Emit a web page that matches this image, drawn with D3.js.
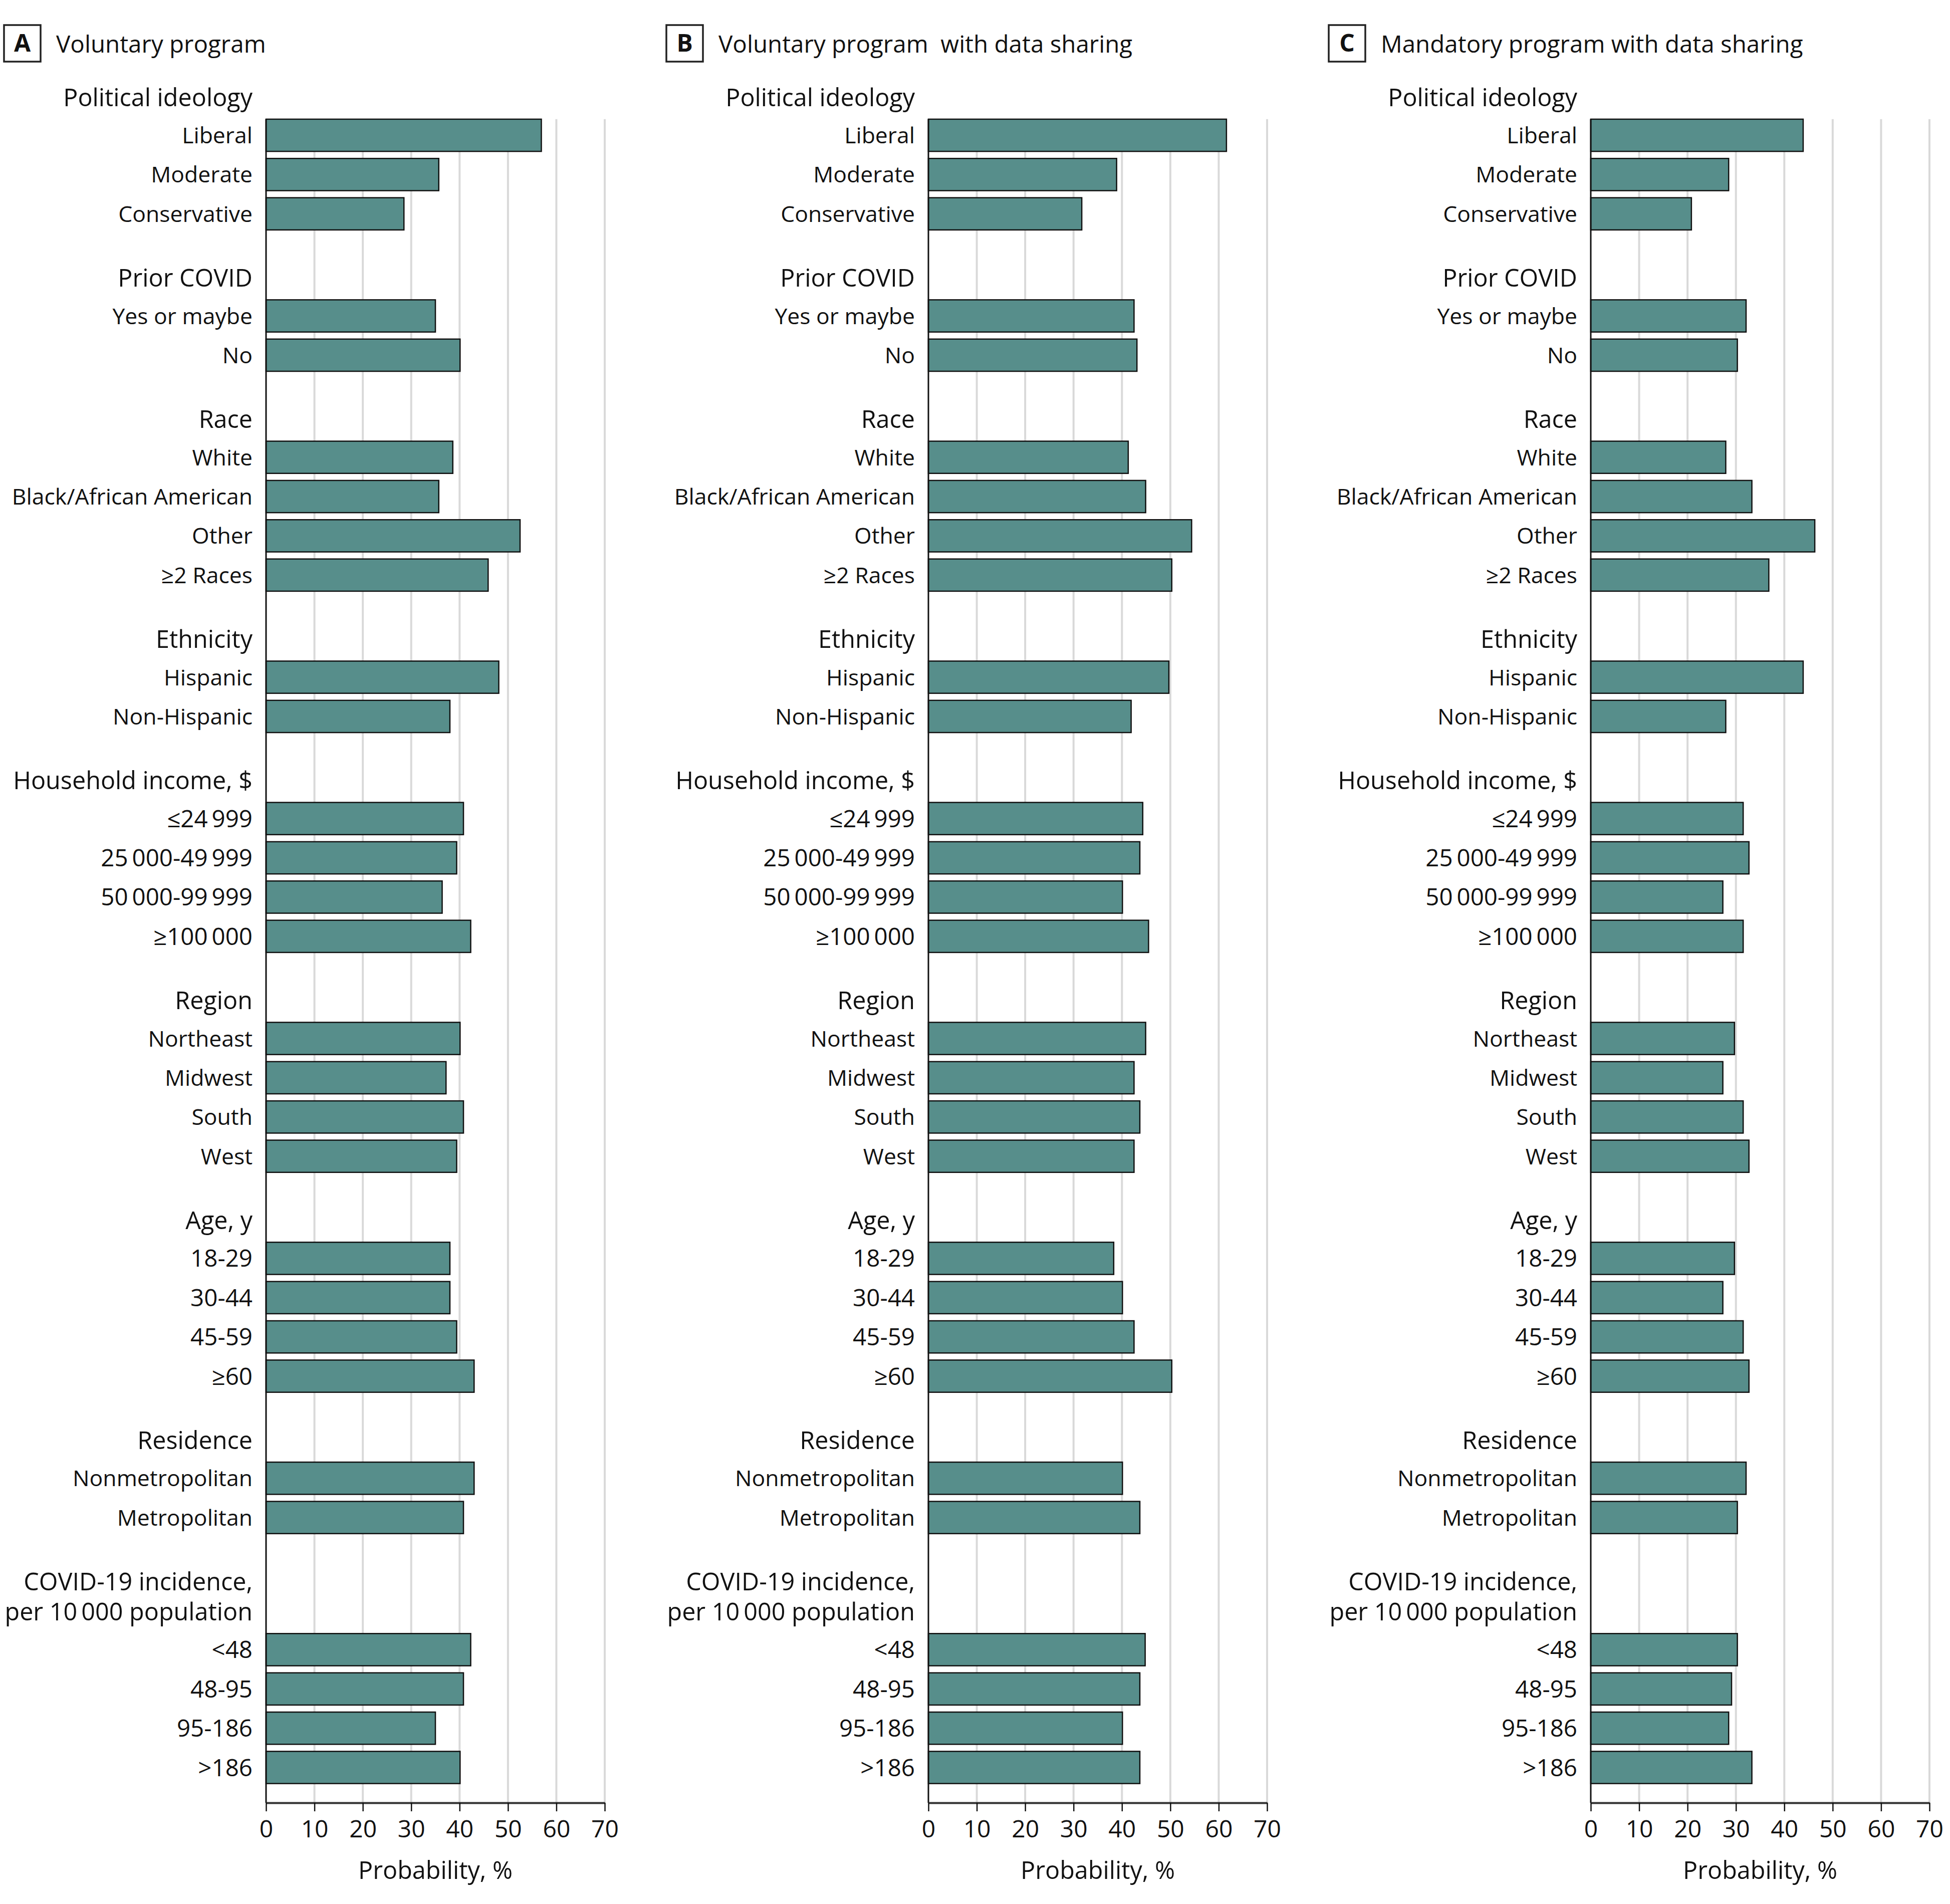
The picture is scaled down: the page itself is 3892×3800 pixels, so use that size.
<!DOCTYPE html>
<html>
<head>
<meta charset="utf-8">
<script src="https://cdn.jsdelivr.net/npm/d3@7"></script>
<style>
  html, body { margin: 0; padding: 0; background: #fff; }
  text { font-family: "Open Sans", "Noto Sans", sans-serif; fill: #111; }
</style>
</head>
<body>
<svg id="chart" width="3892" height="3800"></svg>
<script>
// ---------- data ----------
const panelLetters = ["A", "B", "C"];
const panelTitles = ["Voluntary program", "Voluntary program  with data sharing", "Mandatory program with data sharing"];

const groupHeaders = [
  ["Political ideology"],
  ["Prior COVID"],
  ["Race"],
  ["Ethnicity"],
  ["Household income, $"],
  ["Region"],
  ["Age, y"],
  ["Residence"],
  ["COVID-19 incidence,", "per 10\u2009000 population"]
];

const groupCategories = [
  ["Liberal", "Moderate", "Conservative"],
  ["Yes or maybe", "No"],
  ["White", "Black/African American", "Other", "\u22652 Races"],
  ["Hispanic", "Non-Hispanic"],
  ["\u226424\u2009999", "25\u2009000-49\u2009999", "50\u2009000-99\u2009999", "\u2265100\u2009000"],
  ["Northeast", "Midwest", "South", "West"],
  ["18-29", "30-44", "45-59", "\u226560"],
  ["Nonmetropolitan", "Metropolitan"],
  ["<48", "48-95", "95-186", ">186"]
];

const valuesVoluntary = [56.9, 35.7, 28.5, 35.0, 40.1, 38.6, 35.7, 52.5, 45.9, 48.1, 38.0, 40.8, 39.4, 36.4, 42.3,
  40.1, 37.2, 40.8, 39.4, 38.0, 38.0, 39.4, 43.0, 43.0, 40.8, 42.3, 40.8, 35.0, 40.1];
const valuesVoluntaryShared = [61.6, 38.9, 31.7, 42.5, 43.1, 41.3, 44.9, 54.4, 50.3, 49.7, 41.9, 44.3, 43.7, 40.1, 45.5,
  44.9, 42.5, 43.7, 42.5, 38.3, 40.1, 42.5, 50.3, 40.1, 43.7, 44.8, 43.7, 40.1, 43.7];
const valuesMandatoryShared = [43.9, 28.5, 20.8, 32.1, 30.3, 27.9, 33.3, 46.3, 36.8, 43.9, 27.9, 31.5, 32.7, 27.3, 31.5,
  29.7, 27.3, 31.5, 32.7, 29.7, 27.3, 31.5, 32.7, 32.1, 30.3, 30.3, 29.1, 28.5, 33.3];
const panelValues = [valuesVoluntary, valuesVoluntaryShared, valuesMandatoryShared];

const xTicks = [0, 10, 20, 30, 40, 50, 60, 70];
const xDomain = [0, 70];
const xTitle = "Probability, %";

// ---------- layout ----------
const W = 3892, H = 3800;
const panelX0 = [531, 1853, 3175];   // x position of value 0 in each panel
const plotW = 676;
const yFirst = 270, yLast = 3527.5;  // centers of first and last rows
const groupGap = 2.6;                // in row steps
const headerLine = 0.765;            // extra header line in row steps
const barFrac = 0.82;
const labelSize = 44.5;
const numLabelSize = 47.5;
const headerSize = 48.5;
const tickSize = 48;

// build row index positions from structure
const rows = [];
const headers = [];
let pos = 0;
groupCategories.forEach((cats, gi) => {
  if (gi > 0) pos += groupGap + (groupHeaders[gi].length - 1) * headerLine;
  const nLines = groupHeaders[gi].length;
  groupHeaders[gi].forEach((line, li) => {
    headers.push({ text: line, pos: pos - 1 - (nLines - 1 - li) * headerLine });
  });
  cats.forEach((c, ci) => {
    rows.push({ label: c, pos: pos });
    if (ci < cats.length - 1) pos += 1;
  });
});
const y = d3.scaleLinear().domain([0, pos]).range([yFirst, yLast]);
const step = y(1) - y(0);
const barH = step * barFrac;
const axisY = 3598;
const plotTop = yFirst - barH / 2;
const isNumeric = s => /^[\d\u2264\u2265<>\-\u2009]+$/.test(s);

const svg = d3.select("#chart");
svg.append("rect").attr("width", W).attr("height", H).attr("fill", "#fff");

panelValues.forEach((vals, pi) => {
  const x0 = panelX0[pi];
  const x = d3.scaleLinear().domain(xDomain).range([x0, x0 + plotW]);
  const g = svg.append("g");
  const boxX = x0 - 523;

  // panel heading
  g.append("rect").attr("x", boxX).attr("y", 50).attr("width", 73).attr("height", 73)
    .attr("fill", "#fff").attr("stroke", "#222").attr("stroke-width", 3.5);
  g.append("text").attr("x", boxX + 36.5).attr("y", 103).attr("text-anchor", "middle")
    .attr("font-size", 48).attr("font-weight", 700).text(panelLetters[pi]);
  g.append("text").attr("x", boxX + 104).attr("y", 105).attr("font-size", 47.5)
    .style("white-space", "pre").text(panelTitles[pi]);

  // gridlines
  g.selectAll("line.grid").data(xTicks.filter(t => t > 0)).enter().append("line")
    .attr("x1", d => x(d)).attr("x2", d => x(d))
    .attr("y1", plotTop).attr("y2", axisY)
    .attr("stroke", "#d9d9d9").attr("stroke-width", 4);

  // bars
  g.selectAll("rect.bar").data(rows.map((r, i) => ({ ...r, v: vals[i] }))).enter().append("rect")
    .attr("x", x(0)).attr("y", d => y(d.pos) - barH / 2)
    .attr("width", d => x(d.v) - x(0)).attr("height", barH)
    .attr("fill", "#578e8b").attr("stroke", "#111").attr("stroke-width", 2.5);

  // vertical axis line
  g.append("line").attr("x1", x(0)).attr("x2", x(0)).attr("y1", plotTop).attr("y2", axisY)
    .attr("stroke", "#111").attr("stroke-width", 3);

  // category labels
  g.selectAll("text.cat").data(rows).enter().append("text")
    .attr("x", x0 - 27).attr("y", d => y(d.pos) + (isNumeric(d.label) ? 17 : 16)).attr("text-anchor", "end")
    .attr("font-size", d => isNumeric(d.label) ? numLabelSize : labelSize).text(d => d.label);

  // group headers
  g.selectAll("text.hdr").data(headers).enter().append("text")
    .attr("x", x0 - 27).attr("y", d => y(d.pos) + 20).attr("text-anchor", "end")
    .attr("font-size", headerSize).text(d => d.text);

  // x axis
  const axis = d3.axisBottom(x).tickValues(xTicks).tickSize(17).tickPadding(18).tickSizeOuter(0);
  const ag = g.append("g").attr("transform", `translate(0,${axisY})`).call(axis);
  ag.select(".domain").attr("stroke", "#333").attr("stroke-width", 4);
  ag.selectAll(".tick line").attr("stroke", "#111").attr("stroke-width", 2.5);
  ag.selectAll(".tick text").attr("font-size", tickSize).attr("fill", "#111")
    .attr("font-family", "Open Sans").attr("dy", "0.71em");

  g.append("text").attr("x", x0 + plotW / 2).attr("y", 3750).attr("text-anchor", "middle")
    .attr("font-size", headerSize).text(xTitle);
});
</script>
</body>
</html>
